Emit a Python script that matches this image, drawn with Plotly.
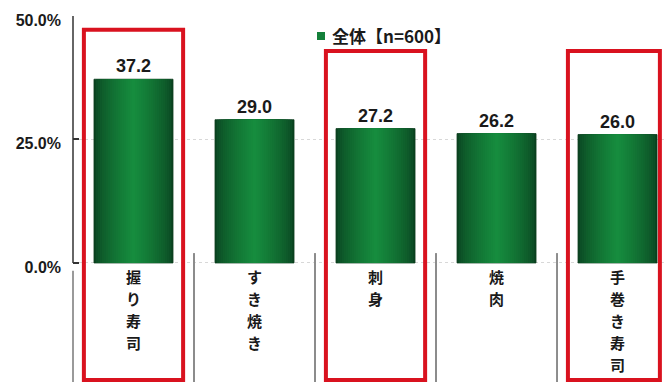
import plotly.graph_objects as go

# Survey: favourite dishes (share of respondents, %)
categories = ["握り寿司", "すき焼き", "刺身", "焼肉", "手巻き寿司"]
values = [37.2, 29.0, 27.2, 26.2, 26.0]
series_name = "全体【n=600】"
y_ticks = [0, 25, 50]
y_tick_labels = ["0.0%", "25.0%", "50.0%"]
highlighted = ["握り寿司", "刺身", "手巻き寿司"]

W, H = 664, 382
ML, MT = 73, 16
PLOT_W, PLOT_H = W - ML, H - MT
Y_MIN, Y_MAX = -24.1, 50
X_MIN, X_MAX = -0.5, 4.384

EDGE = (11, 70, 34)
CENTER = (22, 140, 62)
BAR_W = 0.653
N_LAYERS = 20

fig = go.Figure()

# Horizontal shading of each bar: overlaid bars of shrinking width
for k in range(N_LAYERS):
    t = k / (N_LAYERS - 1)
    c = tuple(round(EDGE[i] + (CENTER[i] - EDGE[i]) * (t ** 0.7)) for i in range(3))
    first = k == 0
    fig.add_trace(go.Bar(
        x=categories, y=values,
        width=BAR_W * (1 - 0.95 * t),
        marker=dict(color="rgb(%d,%d,%d)" % c,
                    line=dict(width=0.8 if first else 0, color="#0a3a1b")),
        texttemplate="%{y:.1f}" if first else None,
        textposition="outside" if first else "none",
        textfont=dict(family="Liberation Sans", size=18, color="#1a1a1a", weight="bold"),
        cliponaxis=False,
        showlegend=False,
        hoverinfo="skip" if not first else None,
        name=series_name,
    ))

shapes = []
# Y axis line with its grey continuation below zero
shapes.append(dict(type="line", xref="paper", yref="y", x0=0, x1=0, y0=0, y1=50,
                   line=dict(color="#333333", width=1.5)))
shapes.append(dict(type="line", xref="paper", yref="y", x0=0, x1=0, y0=-1.6, y1=Y_MIN,
                   line=dict(color="#9a9a9a", width=2)))
# Separators between category labels
for i in range(len(categories) - 1):
    shapes.append(dict(type="line", xref="x", yref="y", x0=i + 0.5, x1=i + 0.5,
                       y0=2.0, y1=Y_MIN, line=dict(color="#8c8c8c", width=2)))
# Red frames around highlighted dishes
frame_spec = {"握り寿司": (0.41, 0.41, 47.2), "刺身": (0.41, 0.41, 42.9),
              "手巻き寿司": (0.41, 0.35, 42.9)}
for name in highlighted:
    i = categories.index(name)
    left, right, top = frame_spec[name]
    shapes.append(dict(type="rect", xref="x", yref="y", x0=i - left, x1=i + right,
                       y0=top, y1=-23.7, line=dict(color="#d9121f", width=4),
                       fillcolor="rgba(0,0,0,0)", layer="above"))

# Legend swatch
def px_x(px):
    return (px - ML) / PLOT_W

def px_y(py):
    return (H - py) / PLOT_H

shapes.append(dict(type="rect", xref="paper", yref="paper",
                   x0=px_x(317), x1=px_x(325), y0=px_y(40), y1=px_y(32),
                   fillcolor="#14803a", line=dict(width=0)))

annotations = [dict(xref="paper", yref="paper", x=px_x(330), y=px_y(35.5),
                    xanchor="left", yanchor="middle", showarrow=False,
                    text=series_name,
                    font=dict(family="Noto Sans CJK JP", size=17, color="#1a1a1a",
                              weight="bold"))]

# Category names written vertically, one character per line, below the zero line
CHAR_STEP = 22
FIRST_OFFSET = 14
for cat in categories:
    for j, ch in enumerate(cat):
        annotations.append(dict(
            xref="x", yref="y", x=cat, y=0,
            xanchor="center", yanchor="middle",
            yshift=-(FIRST_OFFSET + j * CHAR_STEP),
            text=ch, showarrow=False, borderpad=0,
            font=dict(family="Noto Sans CJK JP", size=15, color="#1a1a1a",
                      weight="bold"),
        ))

fig.update_layout(
    width=W, height=H,
    margin=dict(l=ML, r=0, t=MT, b=0),
    paper_bgcolor="white", plot_bgcolor="white",
    barmode="overlay",
    showlegend=False,
    shapes=shapes,
    annotations=annotations,
    xaxis=dict(
        type="category", range=[X_MIN, X_MAX],
        showticklabels=False,
        ticks="", showline=False, showgrid=False, zeroline=False,
    ),
    yaxis=dict(
        range=[Y_MIN, Y_MAX],
        tickmode="array", tickvals=y_ticks, ticktext=y_tick_labels,
        tickfont=dict(family="Liberation Sans", size=16, color="#1a1a1a", weight="bold"),
        ticks="inside", ticklen=6, tickcolor="#333333", tickwidth=1.5,
        showgrid=True, gridcolor="#d8d8d8", griddash="dot", gridwidth=1,
        zeroline=False, showline=False,
        ticklabelstandoff=11, ticklabelshift=4,
    ),
)

fig.write_html("out.html")
